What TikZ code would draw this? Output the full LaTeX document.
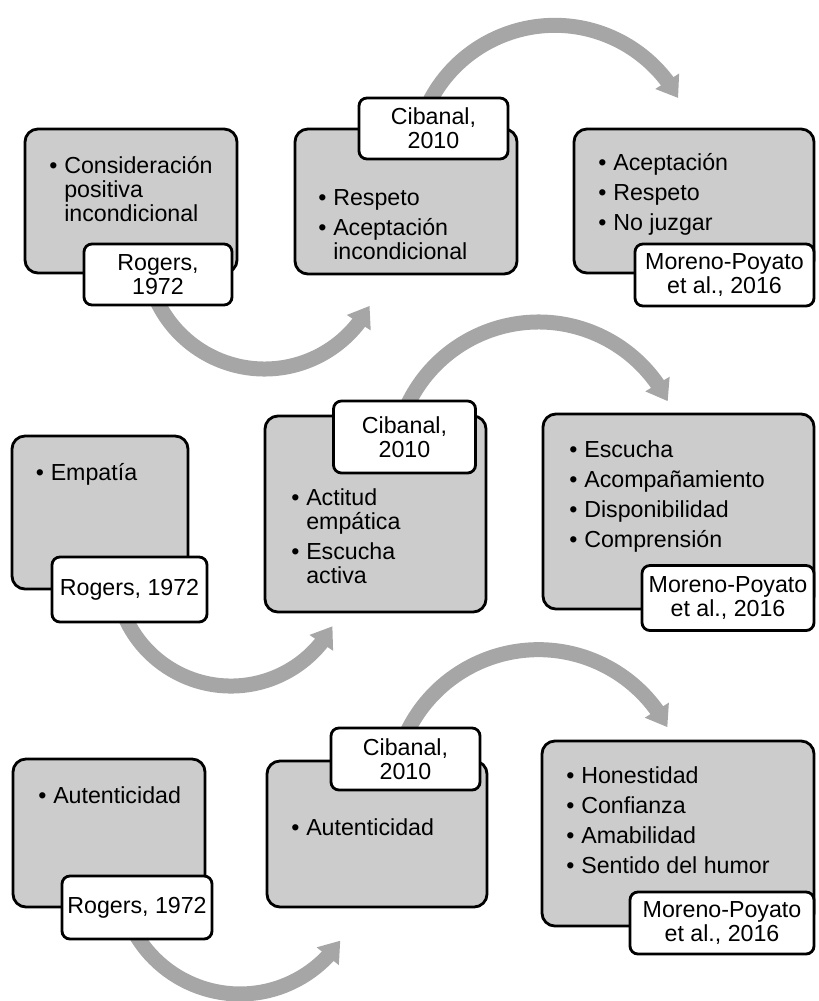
\documentclass[tikz,border=0pt]{standalone}
\usepackage{fontspec}
\setmainfont{Liberation Sans}
\usetikzlibrary{arrows.meta,bending}
\definecolor{cardfill}{HTML}{CCCCCC}
\definecolor{flowgray}{HTML}{A6A6A6}
\newlength{\unitpx}
\setlength{\unitpx}{0.025cm}
\newcommand{\bul}{\makebox[15\unitpx][l]{•}}
\newcommand{\ind}{\hspace*{15\unitpx}}
\begin{document}
\begin{tikzpicture}%
	[x=0.025cm, y=0.025cm,
	font=\fontsize{16.5}{17}\selectfont,
	card/.style={draw=black, line width=2pt, fill=cardfill, rounded corners=0.325cm, inner sep=0pt},
	tagbox/.style={draw=black, line width=2pt, fill=white, rounded corners=0.2cm, inner sep=0pt, align=center},
	itemtext/.style={anchor=base west, align=left, inner sep=0pt},
	flowarrow/.style={draw=flowgray, line width=0.375cm, -{Triangle[width=0.675cm, length=0.5cm, flex]}}]
%
\useasboundingbox (0,0) rectangle (818,-1001);
%
\coordinate (flowtop1) at (426,-109);
\coordinate (flowlow1) at (152.7,-290.7);
\coordinate (flowtop2) at (404.1,-412.7);
\coordinate (flowlow2) at (122,-609.7);
\coordinate (flowtop3) at (403.1,-741);
\coordinate (flowlow3) at (130.3,-924.1);
%%
%%
%% Drawing arrows in the back
%%
\draw[flowarrow] (flowtop1) arc[start angle=156, end angle=29, radius=141];
\draw[flowarrow] (flowlow1) arc[start angle=200, end angle=332, radius=119];
\draw[flowarrow] (flowtop2) arc[start angle=158, end angle=27, radius=145];
\draw[flowarrow] (flowlow2) arc[start angle=200, end angle=331, radius=116];
\draw[flowarrow] (flowtop3) arc[start angle=158, end angle=28, radius=146];
\draw[flowarrow] (flowlow3) arc[start angle=205, end angle=326, radius=121];
%%
%%
%% Drawing the cards
%%
\node[card, minimum width=5.3cm, minimum height=3.6cm] (rog1) at (131,-201) {};
\node[card, minimum width=5.55cm, minimum height=3.625cm] (cib1) at (406,-201.5) {};
\node[card, minimum width=6cm, minimum height=3.6cm] (mor1) at (694,-201) {};
\node[card, minimum width=4.4cm, minimum height=3.825cm] (rog2) at (100,-512.5) {};
\node[card, minimum width=5.525cm, minimum height=4.9cm] (cib2) at (375.5,-514) {};
\node[card, minimum width=6.775cm, minimum height=4.875cm] (mor2) at (678.5,-511.5) {};
\node[card, minimum width=4.8cm, minimum height=3.7cm] (rog3) at (109,-833) {};
\node[card, minimum width=5.5cm, minimum height=3.65cm] (cib3) at (377,-834) {};
\node[card, minimum width=6.8cm, minimum height=4.625cm] (mor3) at (678,-833.5) {};
%%
%% Texts in the cards (base = last line)
%%
\node[itemtext] (rog1list) at (49,-221) {\bul Consideración\\ \ind positiva\\ \ind incondicional};
\node[itemtext] (cib1list) at (318,-259) {\bul Respeto\\[0.15cm] \bul Aceptación\\ \ind incondicional};
\node[itemtext] (mor1list) at (598,-230) {\bul Aceptación\\[0.15cm] \bul Respeto\\[0.15cm] \bul No juzgar};
\node[itemtext] (rog2list) at (35.5,-480) {\bul Empatía};
\node[itemtext] (cib2list) at (291,-583) {\bul Actitud\\ \ind empática\\[0.15cm] \bul Escucha\\ \ind activa};
\node[itemtext] (mor2list) at (569,-547) {\bul Escucha\\[0.15cm] \bul Acompañamiento\\[0.15cm] \bul Disponibilidad\\[0.15cm] \bul Comprensión};
\node[itemtext] (rog3list) at (38,-803) {\bul Autenticidad};
\node[itemtext] (cib3list) at (291,-835) {\bul Autenticidad};
\node[itemtext] (mor3list) at (566,-873) {\bul Honestidad\\[0.15cm] \bul Confianza\\[0.15cm] \bul Amabilidad\\[0.15cm] \bul Sentido del humor};
%%
%%
%% Drawing the tags in the front
%%
\node[tagbox, minimum width=3.7cm, minimum height=1.525cm] (rog1tag) at (158,-274.5) {Rogers,\\1972};
\node[tagbox, minimum width=3.725cm, minimum height=1.525cm] (cib1tag) at (433.5,-128.5) {Cibanal,\\2010};
\node[tagbox, minimum width=4.475cm, minimum height=1.55cm] (mor1tag) at (724.5,-275) {Moreno-Poyato\\et al., 2016};
\node[tagbox, minimum width=3.875cm, minimum height=1.625cm] (rog2tag) at (129.5,-589.5) {Rogers, 1972};
\node[tagbox, minimum width=3.55cm, minimum height=1.8cm] (cib2tag) at (404.5,-437) {Cibanal,\\2010};
\node[tagbox, minimum width=4.3cm, minimum height=1.625cm] (mor2tag) at (728,-598) {Moreno-Poyato\\et al., 2016};
\node[tagbox, minimum width=3.75cm, minimum height=1.575cm] (rog3tag) at (137,-907.5) {Rogers, 1972};
\node[tagbox, minimum width=3.725cm, minimum height=1.55cm] (cib3tag) at (405.5,-759) {Cibanal,\\2010};
\node[tagbox, minimum width=4.6cm, minimum height=1.55cm] (mor3tag) at (722,-923) {Moreno-Poyato\\et al., 2016};
%
\end{tikzpicture}
\end{document}
